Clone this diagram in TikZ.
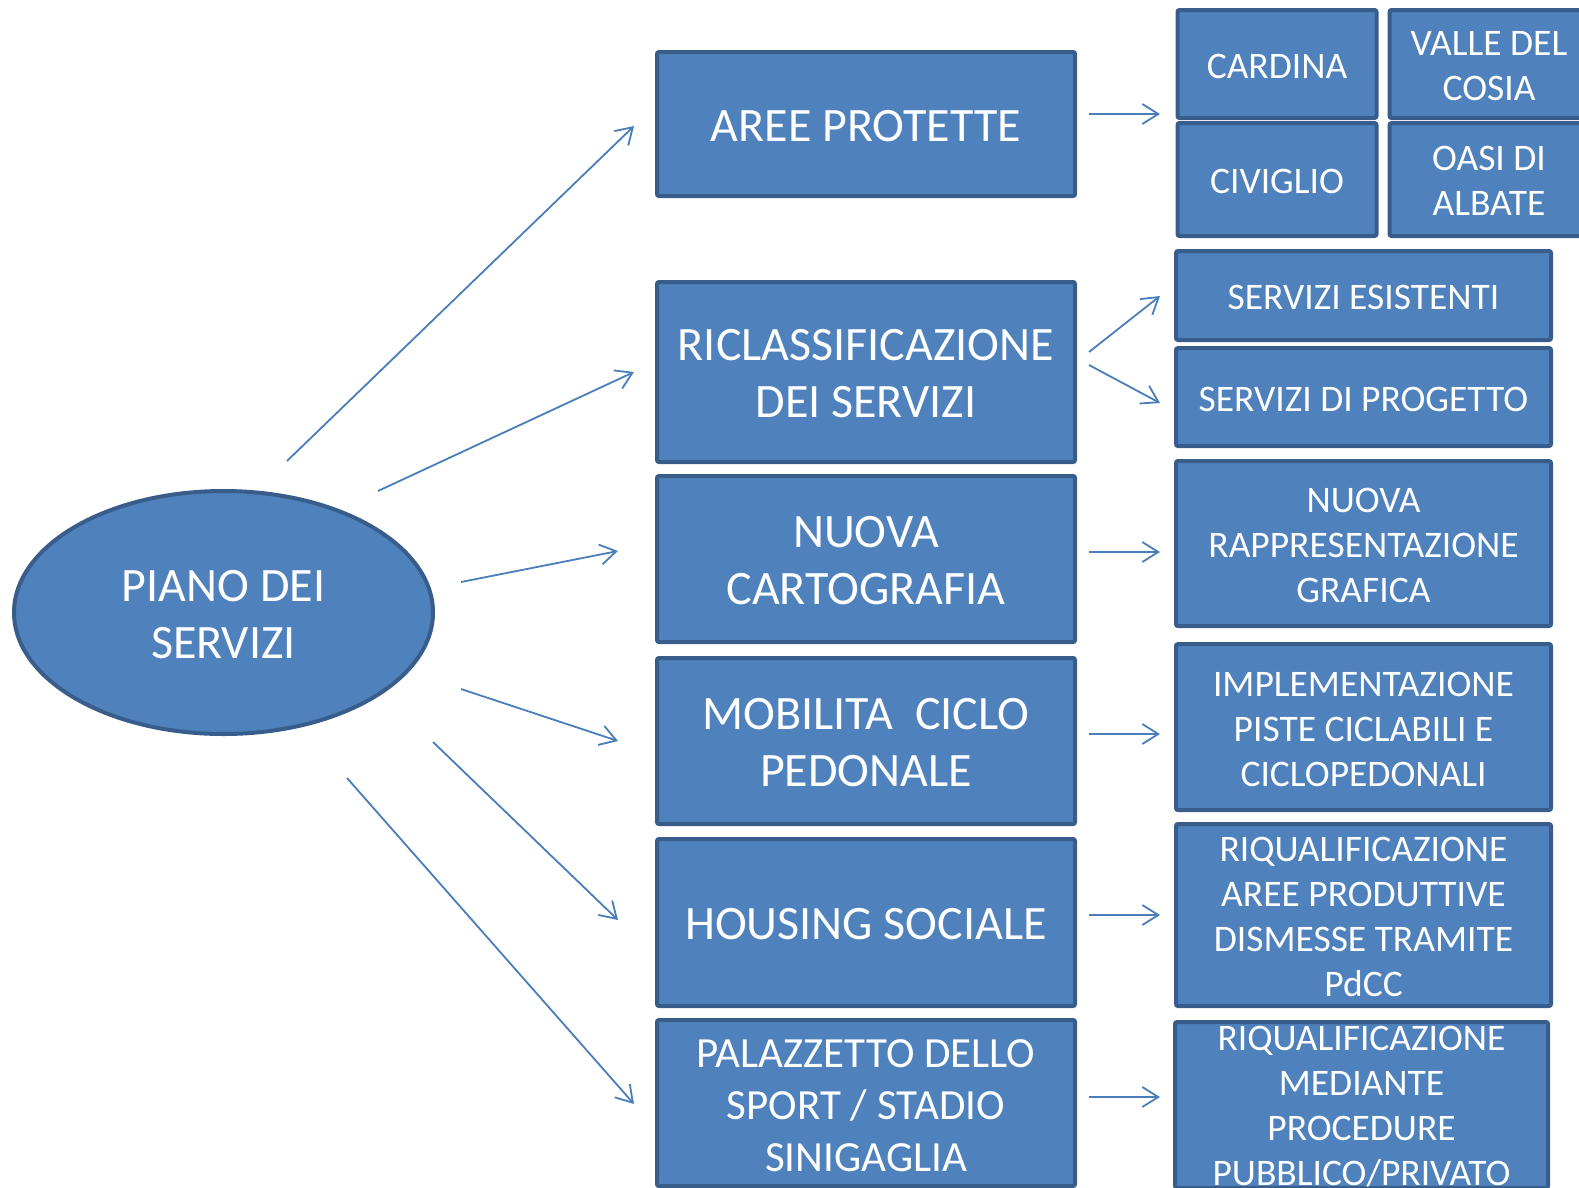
\documentclass[tikz,border=0pt]{standalone}
\usepackage{fontspec}
\setmainfont{Carlito}
\usetikzlibrary{shapes.geometric,arrows.meta}
\definecolor{boxfill}{HTML}{4F81BD}
\definecolor{boxline}{HTML}{385D8A}
\definecolor{arrowcol}{HTML}{4A7EBB}
\tikzset{
  x=1pt,y=1pt,
  box/.style={draw=boxline, fill=boxfill, line width=4, rounded corners=2, inner sep=0, text=white, align=center},
  midbox/.style={box, minimum width=418, font=\fontsize{48}{57}\selectfont},
  rightbox/.style={box, font=\fontsize{37.5}{45}\selectfont},
  conn/.style={draw=arrowcol, line width=1.8, -{Straight Barb[length=16,width=20,line width=1.8]}},
  lbl/.style={text=white, align=center, inner sep=0},
}
\begin{document}
\begin{tikzpicture}
\useasboundingbox (0,0) rectangle (1579,-1187);
\clip (0,0) rectangle (1579,-1187);
% centre ellipse
\node[ellipse, draw=boxline, fill=boxfill, line width=4, minimum width=419, minimum height=243, inner sep=0] (piano) at (223.5,-612.5) {};
\node[lbl, font=\fontsize{48}{57}\selectfont] (pianot) at (223.5,-614.5) {PIANO DEI\\SERVIZI};
% middle column
\node[midbox, minimum height=144] (aree) at (866,-124) {};
\node[lbl, font=\fontsize{48}{57}\selectfont] (areet) at (866,-126) {AREE PROTETTE};
\node[midbox, minimum height=180] (ricl) at (866,-372) {};
\node[lbl, font=\fontsize{48}{57}\selectfont] (riclt) at (866,-374) {RICLASSIFICAZIONE\\DEI SERVIZI};
\node[midbox, minimum height=166] (cart) at (866,-559) {};
\node[lbl, font=\fontsize{48}{57}\selectfont] (cartt) at (866,-561) {NUOVA\\CARTOGRAFIA};
\node[midbox, minimum height=166] (mob) at (866,-741) {};
\node[lbl, font=\fontsize{48}{57}\selectfont] (mobt) at (866,-743) {MOBILITA\ \ CICLO\\PEDONALE};
\node[midbox, minimum height=167] (hous) at (866,-922.5) {};
\node[lbl, font=\fontsize{48}{57}\selectfont] (houst) at (866,-924.5) {HOUSING SOCIALE};
\node[midbox, minimum height=166] (pal) at (866,-1103) {};
\node[lbl, font=\fontsize{43}{52}\selectfont] (palt) at (866,-1106) {PALAZZETTO DELLO\\SPORT / STADIO\\SINIGAGLIA};
% top-right grid
\node[rightbox, minimum width=199, minimum height=108] (card) at (1277,-64) {};
\node[lbl, font=\fontsize{37.5}{45}\selectfont] (cardt) at (1277,-66) {CARDINA};
\node[rightbox, minimum width=199, minimum height=108] (valle) at (1489,-64) {};
\node[lbl, font=\fontsize{37.5}{45}\selectfont] (vallet) at (1489,-66) {VALLE DEL\\COSIA};
\node[rightbox, minimum width=199, minimum height=113] (civ) at (1277,-179.5) {};
\node[lbl, font=\fontsize{37.5}{45}\selectfont] (civt) at (1277,-181) {CIVIGLIO};
\node[rightbox, minimum width=199, minimum height=113] (oasi) at (1489,-179.5) {};
\node[lbl, font=\fontsize{37.5}{45}\selectfont] (oasit) at (1489,-181) {OASI DI\\ALBATE};
% right column
\node[rightbox, minimum width=375, minimum height=89] (esist) at (1363.5,-295.5) {};
\node[lbl, font=\fontsize{37.5}{45}\selectfont] (esistt) at (1363.5,-297.5) {SERVIZI ESISTENTI};
\node[rightbox, minimum width=375, minimum height=98] (prog) at (1363.5,-397) {};
\node[lbl, font=\fontsize{37.5}{45}\selectfont] (progt) at (1363.5,-399) {SERVIZI DI PROGETTO};
\node[rightbox, minimum width=375, minimum height=165] (rapp) at (1363.5,-543.5) {};
\node[lbl, font=\fontsize{37.5}{45}\selectfont] (rappt) at (1363.5,-545.5) {NUOVA\\RAPPRESENTAZIONE\\GRAFICA};
\node[rightbox, minimum width=375, minimum height=166] (impl) at (1363.5,-727) {};
\node[lbl, font=\fontsize{37.5}{45}\selectfont] (implt) at (1363.5,-729) {IMPLEMENTAZIONE\\PISTE CICLABILI E\\CICLOPEDONALI};
\node[rightbox, minimum width=375, minimum height=182] (pdcc) at (1363.5,-915) {};
\node[lbl, font=\fontsize{37.5}{45}\selectfont] (pdcct) at (1363.5,-917) {RIQUALIFICAZIONE\\AREE PRODUTTIVE\\DISMESSE TRAMITE\\PdCC};
\node[rightbox, minimum width=373, minimum height=166] (med) at (1361.5,-1105) {};
\node[lbl, font=\fontsize{37.5}{45}\selectfont] (medt) at (1361.5,-1107) {RIQUALIFICAZIONE\\MEDIANTE\\PROCEDURE\\PUBBLICO/PRIVATO};
% arrow end points
\coordinate (s1) at (287,-461);  \coordinate (e1) at (634,-126);
\coordinate (s2) at (378,-491);  \coordinate (e2) at (634,-372);
\coordinate (s3) at (461,-582);  \coordinate (e3) at (618,-551);
\coordinate (s4) at (461,-689);  \coordinate (e4) at (618,-741);
\coordinate (s5) at (433,-742);  \coordinate (e5) at (618,-920);
\coordinate (s6) at (347,-778);  \coordinate (e6) at (634,-1104);
\coordinate (r1s) at (1089,-114); \coordinate (r1e) at (1160,-114);
\coordinate (r2s) at (1089,-352); \coordinate (r2e) at (1160,-296);
\coordinate (r3s) at (1089,-365); \coordinate (r3e) at (1160,-403);
\coordinate (r4s) at (1089,-552); \coordinate (r4e) at (1160,-552);
\coordinate (r5s) at (1089,-734); \coordinate (r5e) at (1160,-734);
\coordinate (r6s) at (1089,-915); \coordinate (r6e) at (1160,-915);
\coordinate (r7s) at (1089,-1097); \coordinate (r7e) at (1160,-1097);
\foreach \a/\b in {s1/e1,s2/e2,s3/e3,s4/e4,s5/e5,s6/e6,r1s/r1e,r2s/r2e,r3s/r3e,r4s/r4e,r5s/r5e,r6s/r6e,r7s/r7e}
  \draw[conn] (\a) -- (\b);
\end{tikzpicture}
\end{document}
